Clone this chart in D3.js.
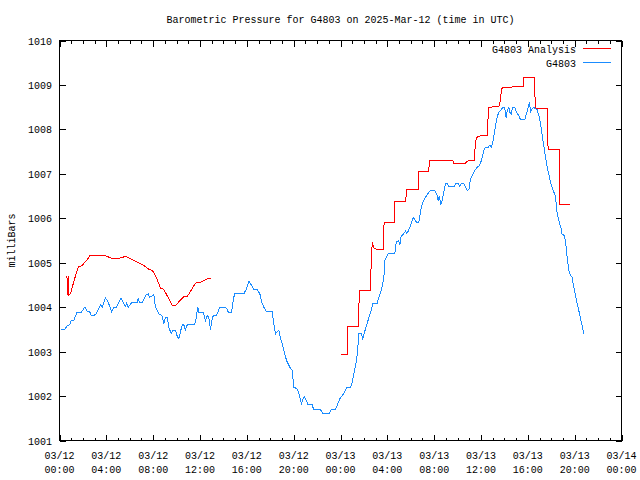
<!DOCTYPE html>
<html><head><meta charset="utf-8">
<script src="https://cdn.jsdelivr.net/npm/d3@7"></script>
<style>body{margin:0;background:#fff}svg{display:block}text{font-family:"Liberation Mono","DejaVu Sans Mono",monospace;font-size:10px;fill:#000}</style>
</head><body>
<script>
const titleText = "Barometric Pressure for G4803 on 2025-Mar-12 (time in UTC)";
const yLabel = "milliBars";
const seriesNames = ["G4803 Analysis", "G4803"];
const seriesColors = ["#ff0000", "#1a8cff"];
const yTicks = [1001,1002,1003,1004,1005,1006,1007,1008,1009,1010];
const xTickHours = [0,4,8,12,16,20,24,28,32,36,40,44,48];
const xTickDates = ["03/12","03/12","03/12","03/12","03/12","03/12","03/13","03/13","03/13","03/13","03/13","03/13","03/14"];
const xTickTimes = ["00:00","04:00","08:00","12:00","16:00","20:00","00:00","04:00","08:00","12:00","16:00","20:00","00:00"];

// [hours since 2025-03-12 00:00 UTC, mbar]; null = gap
const analysis = [[0.64,1004.71],[0.66,1004.28],[0.77,1004.71],[0.79,1004.28],[0.94,1004.31],[1.37,1004.71],[1.60,1004.90],[1.94,1004.94],[2.37,1005.07],[2.59,1005.16],[3.93,1005.16],[4.50,1005.09],[4.93,1005.09],[5.49,1005.13],[5.78,1005.13],[6.21,1005.07],[6.77,1005.00],[7.20,1004.94],[7.63,1004.85],[7.92,1004.83],[8.20,1004.71],[8.63,1004.43],[8.91,1004.40],[9.63,1004.04],[9.91,1004.04],[10.62,1004.24],[10.91,1004.24],[11.62,1004.54],[12.04,1004.56],[12.62,1004.64],[12.90,1004.64],
null,
[24.00,1002.94],[24.56,1002.94],[24.56,1003.25],[24.64,1003.57],[25.56,1003.57],[25.56,1004.00],[25.65,1004.38],[26.59,1004.38],[26.60,1004.83],[26.71,1005.46],[26.84,1005.34],[27.13,1005.29],[27.65,1005.29],[27.65,1005.59],[27.73,1005.91],[28.59,1005.91],[28.59,1006.10],[28.64,1006.37],[29.58,1006.37],[29.60,1006.52],[29.64,1006.64],[30.64,1006.64],[30.64,1006.81],[30.69,1007.05],[31.54,1007.05],[31.56,1007.15],[31.60,1007.30],[32.63,1007.31],[33.59,1007.31],[33.68,1007.23],[34.62,1007.23],[34.82,1007.28],[35.02,1007.31],[35.45,1007.31],[35.45,1007.41],[35.53,1007.71],[35.62,1007.82],[35.96,1007.86],[36.58,1007.86],[36.58,1008.16],[36.67,1008.49],[37.24,1008.52],[37.52,1008.52],[37.61,1008.59],[37.73,1008.84],[37.81,1008.94],[39.60,1008.97],[39.66,1009.16],[40.60,1009.16],[40.60,1008.80],[40.68,1008.46],[41.65,1008.46],[41.65,1007.99],[41.74,1007.54],[42.68,1007.54],[42.68,1006.92],[42.73,1006.30],[43.64,1006.30]];

const observed = [[0.17,1003.49],[0.43,1003.49],[0.66,1003.59],[0.85,1003.60],[1.00,1003.69],[1.22,1003.70],[1.37,1003.80],[1.51,1003.89],[1.88,1003.89],[2.16,1004.00],[2.37,1003.91],[2.59,1003.89],[2.73,1003.81],[2.93,1003.81],[3.13,1003.85],[3.50,1004.05],[3.65,1004.00],[3.93,1004.21],[4.16,1004.11],[4.44,1003.90],[4.64,1004.00],[4.87,1004.00],[5.24,1004.20],[5.44,1004.11],[5.64,1004.02],[5.72,1004.09],[5.87,1004.00],[6.15,1004.10],[6.64,1004.10],[6.72,1004.20],[6.83,1004.10],[7.06,1004.10],[7.41,1004.28],[7.58,1004.30],[7.71,1004.22],[7.92,1004.26],[8.05,1004.29],[8.20,1004.00],[8.48,1003.85],[8.63,1003.83],[8.77,1003.80],[8.91,1003.63],[9.05,1003.77],[9.20,1003.77],[9.34,1003.55],[9.54,1003.40],[9.68,1003.48],[9.91,1003.48],[10.05,1003.35],[10.19,1003.29],[10.39,1003.51],[10.48,1003.60],[10.62,1003.60],[10.76,1003.49],[10.91,1003.60],[11.47,1003.60],[11.62,1003.66],[11.81,1004.00],[11.90,1003.89],[12.27,1003.89],[12.47,1003.70],[12.61,1003.81],[12.75,1003.77],[12.90,1003.49],[12.98,1003.66],[13.13,1003.81],[13.41,1003.81],[13.69,1004.00],[14.18,1004.00],[14.32,1003.95],[14.41,1003.89],[14.69,1003.89],[14.84,1004.15],[14.95,1004.30],[15.74,1004.30],[15.97,1004.41],[16.17,1004.58],[16.31,1004.53],[16.60,1004.40],[16.89,1004.40],[17.11,1004.30],[17.31,1004.08],[17.53,1003.96],[17.68,1003.90],[18.17,1003.90],[18.30,1003.63],[18.45,1003.40],[18.59,1003.44],[18.73,1003.48],[18.87,1003.32],[19.16,1003.03],[19.39,1002.80],[19.67,1002.65],[19.87,1002.58],[20.01,1002.20],[20.30,1002.16],[20.50,1002.01],[20.67,1001.83],[20.81,1001.94],[20.93,1001.99],[21.10,1001.88],[21.24,1001.80],[21.58,1001.80],[21.72,1001.69],[22.29,1001.69],[22.52,1001.60],[23.00,1001.60],[23.21,1001.69],[23.57,1001.69],[23.77,1001.83],[24.00,1001.97],[24.28,1002.05],[24.51,1002.19],[24.85,1002.19],[25.00,1002.31],[25.20,1002.58],[25.37,1002.80],[25.51,1003.18],[25.56,1003.40],[25.79,1003.40],[25.90,1003.29],[26.05,1003.44],[26.28,1003.63],[26.42,1003.77],[26.62,1003.93],[26.76,1004.08],[27.13,1004.09],[27.27,1004.22],[27.48,1004.38],[27.70,1004.64],[27.78,1005.05],[27.90,1005.12],[28.07,1005.20],[28.64,1005.20],[28.76,1005.46],[28.98,1005.50],[29.06,1005.39],[29.18,1005.59],[29.41,1005.66],[29.55,1005.71],[29.64,1005.66],[29.78,1005.71],[29.98,1005.84],[30.18,1005.99],[30.26,1006.01],[30.49,1005.91],[30.69,1005.91],[30.83,1006.14],[30.92,1006.27],[31.11,1006.40],[31.34,1006.51],[31.69,1006.63],[32.03,1006.63],[32.26,1006.51],[32.34,1006.40],[32.46,1006.51],[32.54,1006.30],[32.69,1006.40],[32.82,1006.59],[32.97,1006.78],[33.11,1006.79],[33.25,1006.72],[33.74,1006.72],[33.88,1006.79],[34.05,1006.79],[34.16,1006.72],[34.33,1006.78],[34.53,1006.78],[34.82,1006.63],[34.96,1006.64],[35.10,1006.89],[35.25,1006.96],[35.47,1007.08],[35.68,1007.15],[35.87,1007.19],[36.04,1007.30],[36.24,1007.53],[36.38,1007.60],[36.58,1007.59],[36.75,1007.64],[36.90,1007.60],[37.04,1007.75],[37.15,1007.94],[37.30,1008.16],[37.38,1008.27],[37.52,1008.39],[37.72,1008.44],[37.86,1008.50],[38.01,1008.50],[38.15,1008.26],[38.24,1008.43],[38.37,1008.50],[38.46,1008.39],[38.58,1008.34],[38.69,1008.50],[38.89,1008.50],[39.03,1008.39],[39.23,1008.31],[39.37,1008.22],[39.74,1008.22],[39.89,1008.36],[40.03,1008.50],[40.14,1008.61],[40.23,1008.39],[40.37,1008.46],[40.51,1008.50],[40.66,1008.46],[40.80,1008.44],[40.94,1008.31],[41.08,1008.13],[41.23,1007.86],[41.36,1007.64],[41.51,1007.37],[41.65,1007.15],[41.79,1007.00],[41.94,1006.81],[42.08,1006.70],[42.22,1006.59],[42.36,1006.49],[42.51,1006.10],[42.65,1005.95],[42.85,1005.76],[42.93,1005.64],[43.13,1005.61],[43.24,1005.43],[43.36,1005.12],[43.50,1004.83],[43.64,1004.71],[43.78,1004.67],[43.93,1004.45],[44.16,1004.15],[44.35,1003.93],[44.50,1003.74],[44.64,1003.59],[44.78,1003.40]];

const W = 640, H = 480;
const L = 59.5, R = 621.5, T = 40.5, B = 440.5;
const t0 = Date.UTC(2025, 2, 12, 0, 0);
const toDate = h => new Date(t0 + h * 3600e3);

const svg = d3.select("body").append("svg").attr("width", W).attr("height", H);
const x = d3.scaleUtc().domain([toDate(0), toDate(48)]).range([L, R]);
const y = d3.scaleLinear().domain([1001, 1010]).range([B, T]);

// title
svg.append("text").attr("x", (L + R) / 2).attr("y", 23).attr("text-anchor", "middle").text(titleText);
// y label
svg.append("text").attr("transform", `translate(15,${(T + B) / 2}) rotate(-90)`).attr("text-anchor", "middle").text(yLabel);

const g = svg.append("g").attr("shape-rendering", "crispEdges");
// y ticks
yTicks.forEach(v => {
  const yy = Math.round(y(v)) + 0.5;
  g.append("line").attr("x1", L).attr("x2", L + 6).attr("y1", yy).attr("y2", yy).attr("stroke", "#000");
  g.append("line").attr("x1", R - 6).attr("x2", R).attr("y1", yy).attr("y2", yy).attr("stroke", "#000");
  svg.append("text").attr("x", 52).attr("y", yy + 3.5).attr("text-anchor", "end").text(v);
});
// x ticks (major every 4 h, minor every hour)
d3.range(0, 49).forEach(h => {
  const xx = Math.round(x(toDate(h))) + 0.5;
  const len = h % 4 === 0 ? 6 : 3;
  g.append("line").attr("x1", xx).attr("x2", xx).attr("y1", B).attr("y2", B - len).attr("stroke", "#000");
  g.append("line").attr("x1", xx).attr("x2", xx).attr("y1", T).attr("y2", T + len).attr("stroke", "#000");
});
xTickHours.forEach((h, i) => {
  const xx = x(toDate(h));
  svg.append("text").attr("x", xx).attr("y", 459).attr("text-anchor", "middle").text(xTickDates[i]);
  svg.append("text").attr("x", xx).attr("y", 473).attr("text-anchor", "middle").text(xTickTimes[i]);
});

// lines
const line = d3.line().defined(d => d !== null).x(d => x(toDate(d[0]))).y(d => y(d[1]));
const lg = svg.append("g").attr("shape-rendering", "crispEdges");
lg.append("path").attr("d", line(analysis)).attr("fill", "none").attr("stroke", seriesColors[0]).attr("stroke-width", 1);
lg.append("path").attr("d", line(observed)).attr("fill", "none").attr("stroke", seriesColors[1]).attr("stroke-width", 1);

// frame
g.append("rect").attr("x", L).attr("y", T).attr("width", R - L).attr("height", B - T).attr("fill", "none").attr("stroke", "#000");

// legend
seriesNames.forEach((name, i) => {
  const ly = 48.5 + i * 14;
  svg.append("text").attr("x", 576).attr("y", ly + 4).attr("text-anchor", "end").text(name);
  g.append("line").attr("x1", 583).attr("x2", 611).attr("y1", ly).attr("y2", ly).attr("stroke", seriesColors[i]);
});
</script>
</body></html>
